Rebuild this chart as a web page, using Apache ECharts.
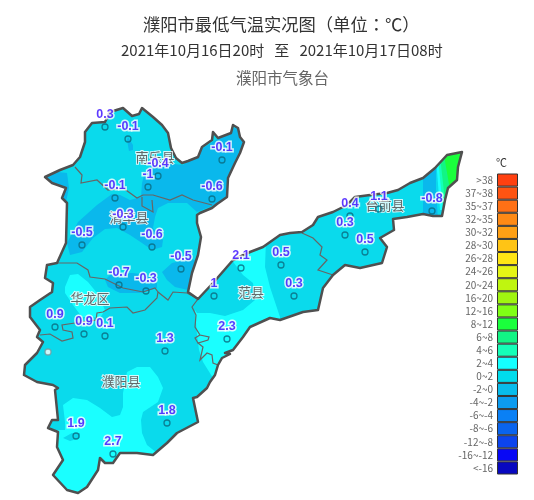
<!DOCTYPE html>
<html><head><meta charset="utf-8">
<style>html,body{margin:0;padding:0;background:#fff}#c{width:534px;height:500px}</style>
<script src="https://cdn.jsdelivr.net/npm/echarts@6/dist/echarts.min.js"></script>
</head><body><div id="c"></div>
<script>
// ---- station observations ----
const stationX = [105,128,158,148,222,212,115,123,82,152,181,119,146,55,84,105,48,165,167,76,113,227,214,241,281,294,350,345,365,379,432];
const stationY = [127,139,176,187,160,199,198,227,245,247,269,285,291,327,334,336,352,351,423,436,454,339,296,268,265,296,216,235,252,209,211];
const stationValues = [0.3,-0.1,-0.4,-1,-0.1,-0.6,-0.1,-0.3,-0.5,-0.6,-0.5,-0.7,-0.3,0.9,0.9,0.1,null,1.3,1.8,1.9,2.7,2.3,1,2.1,0.5,0.3,0.4,0.3,0.5,1.1,-0.8];
// ---- counties ----
const countyNames = ['南乐县','清丰县','华龙区','濮阳县','范县','台前县'];
const countyX = [155,129,90,121,251,385];
const countyY = [157,217,298,381,292,205];
// ---- legend ----
const legendLabels = ['>38','37~38','35~37','32~35','30~32','28~30','26~28','24~26','20~24','16~20','12~16','8~12','6~8','4~6','2~4','0~2','-2~0','-4~-2','-6~-4','-8~-6','-12~-8','-16~-12','<-16'];
const legendColors = ['#ff4010','#ff5412','#ff7015','#ff8a15','#ffa015','#ffc415','#ffe515','#e5f515','#bff510','#a0f510','#80ff15','#1aff3c','#12f585','#15ffb8','#14ffff','#00dcec','#08bcec','#0c9cf0','#0a80f5','#0a64ee','#0c44ee','#0808f5','#0808c0'];
// ---- map geometry (map units) ----
const outerBorder = [[85,132],[92,123],[105,122],[110,112],[123,108],[132,116],[139,114],[142,108],[153,117],[162,125],[168,133],[171,148],[176,158],[182,163],[188,161],[198,157],[202,147],[212,140],[213,132],[218,138],[231,133],[233,125],[238,128],[240,137],[244,142],[240,153],[235,163],[228,178],[227,197],[217,204],[212,208],[200,213],[197,215],[197,223],[201,237],[198,255],[192,273],[188,292],[198,299],[213,283],[233,260],[250,252],[263,247],[280,235],[290,233],[302,232],[313,225],[318,217],[333,212],[347,205],[355,197],[370,195],[387,193],[398,190],[410,183],[423,178],[435,168],[447,155],[462,152],[458,167],[457,180],[448,188],[445,200],[442,216],[433,216],[423,214],[407,217],[393,219],[394,230],[380,238],[387,247],[382,263],[360,268],[345,265],[333,275],[323,288],[318,310],[303,312],[280,320],[270,318],[250,327],[243,337],[233,350],[225,353],[230,354],[222,358],[218,365],[215,375],[210,382],[207,388],[197,397],[193,398],[198,422],[177,433],[167,443],[153,455],[137,453],[120,453],[113,463],[105,463],[100,458],[98,470],[87,487],[78,493],[67,490],[53,475],[63,460],[57,447],[58,432],[48,428],[52,420],[58,420],[55,390],[58,388],[53,385],[37,382],[24,375],[25,365],[37,353],[43,342],[37,337],[40,330],[30,317],[30,307],[40,300],[52,292],[53,283],[45,278],[47,265],[57,263],[66,243],[67,203],[62,198],[66,188],[52,183],[45,177],[60,170],[73,165],[80,157],[85,142]];
const borderNanle = [[75,167],[82,175],[81,183],[97,180],[108,190],[123,188],[137,198],[143,195],[153,195],[170,200],[182,195],[193,200],[212,205]];
const borderNanleLoop = [[142,197],[142,206],[153,212],[152,200]];
const borderQingfeng = [[57,263],[77,263],[88,270],[90,277],[105,279],[123,288],[143,292],[155,288],[158,292]];
const borderHualongEast = [[158,292],[168,300],[173,292],[187,293],[198,299]];
const borderHualong = [[158,292],[157,298],[145,310],[133,313],[127,307],[110,308],[103,312],[97,313],[96,320],[75,323],[62,325],[63,330],[72,332],[73,338],[62,341],[50,334],[40,335]];
const borderFanPuyang = [[198,299],[192,307],[196,315],[195,327],[200,335],[209,337],[208,340],[198,343],[195,338],[200,335]];
const borderFanPuyang2 = [[198,343],[203,347],[200,360],[207,353],[212,355],[213,363],[218,365]];
const borderTaiqian = [[302,233],[313,238],[322,247],[320,255],[327,260],[318,270],[333,275]];
const borderGroups = [borderNanle,borderNanleLoop,borderQingfeng,borderHualongEast,borderHualong,borderFanPuyang,borderFanPuyang2,borderTaiqian];
// ---- temperature bands ----
const bandBase = [[0,90],[480,90],[480,500],[0,500]];
const coldCentral = [[67,243],[78,222],[97,205],[112,194],[120,195],[130,200],[141,197],[142,183],[145,172],[152,165],[165,163],[183,165],[200,150],[247,120],[253,167],[227,200],[207,208],[197,212],[187,203],[168,203],[158,208],[155,217],[153,228],[163,240],[162,247],[152,250],[142,243],[130,235],[117,228],[105,229],[93,238],[82,252],[70,255]];
const coldWest = [[40,170],[67,173],[69,188],[66,202],[60,200],[40,190]];
const coldNorth = [[128,137],[133,145],[133,150],[129,151],[127,140]];
const coldEast = [[162,272],[172,263],[190,259],[195,260],[190,280],[188,290],[175,287],[167,280]];
const coldHualong = [[105,280],[112,273],[133,273],[147,275],[157,283],[157,288],[140,293],[120,293],[108,287]];
const coolSouth = [[63,438],[72,433],[80,433],[80,438],[70,441]];
const warmHualong = [[65,287],[70,275],[78,274],[88,282],[97,293],[105,310],[100,318],[92,317],[82,317],[73,305],[65,293]];
const warmFan = [[228,255],[266,240],[265,267],[270,287],[280,317],[280,330],[240,340],[225,370],[213,378],[203,362],[199,350],[197,335],[195,310],[197,313],[210,313],[225,316],[243,310],[255,300],[253,283],[243,275]];
const warmPuyang = [[127,372],[137,367],[150,367],[158,377],[163,388],[158,402],[143,412],[141,420],[142,433],[147,445],[157,453],[158,470],[158,500],[40,500],[40,440],[50,430],[65,430],[65,422],[63,405],[73,398],[87,400],[100,408],[112,417],[120,415],[123,407],[123,393]];
const coldTaiqian = [[423,170],[436,165],[436,190],[438,220],[423,220]];
const edge24 = [[437,150],[437,171],[440,210],[470,210],[470,150]];
const edge46 = [[439,150],[439,168],[443,210],[470,210],[470,150]];
const edge68 = [[441,150],[441,165],[446,210],[470,210],[470,150]];
const edge812 = [[445,150],[445,161],[450,190],[452,210],[470,210],[470,150]];
const cBase='#0adaec', cCold='#0ab8ec', cWarm='#1affff';
const bands = [
 [bandBase,cBase],[coldCentral,cCold],[coldWest,cCold],[coldNorth,cCold],[coldEast,cCold],[coldHualong,cCold],
 [warmHualong,cWarm],[warmFan,cWarm],[warmPuyang,cWarm],[coolSouth,cBase],
 [coldTaiqian,cCold],[edge24,cWarm],[edge46,'#15ffb8'],[edge68,'#12f585'],[edge812,'#1aff3c']
];
const font = '"Noto Sans CJK SC","Noto Sans",sans-serif';
const fontTitle = '"Noto Sans CJK TC","Noto Sans",sans-serif';
const chart = echarts.init(document.getElementById('c'));
const toPts = (api,ring)=>ring.map(p=>api.coord(p));
chart.setOption({
 backgroundColor:'#fff',
 animation:false,
 title:[
  {text:'濮阳市最低气温实况图（单位：℃）',left:143,top:16,padding:0,textStyle:{fontFamily:fontTitle,fontSize:17.3,fontWeight:'normal',color:'#333'}},
  {text:'2021年10月16日20时   至   2021年10月17日08时',left:121,top:43,padding:0,textStyle:{fontFamily:font,fontSize:15,fontWeight:'normal',color:'#333'}},
  {text:'濮阳市气象台',left:236,top:70,padding:0,textStyle:{fontFamily:font,fontSize:15.5,fontWeight:'normal',color:'#666'}},
  {text:'℃',left:496,top:157,padding:0,textStyle:{fontFamily:font,fontSize:11,fontWeight:'normal',color:'#333'}}
 ],
 grid:[
  {left:0,top:0,width:534,height:500},
  {left:497,top:173.5,width:21,height:301}
 ],
 xAxis:[
  {type:'value',gridIndex:0,min:0,max:534,show:false},
  {type:'value',gridIndex:1,min:0,max:1,show:false}
 ],
 yAxis:[
  {type:'value',gridIndex:0,min:0,max:500,inverse:true,show:false},
  {type:'category',gridIndex:1,inverse:true,data:legendLabels,axisLine:{show:false},axisTick:{show:false},
   axisLabel:{color:'#666',fontSize:10,margin:4,interval:0,fontFamily:font}}
 ],
 series:[
  {type:'custom',xAxisIndex:0,yAxisIndex:0,z:1,silent:true,clip:false,
   data:bands.map((b,i)=>[i,0]),
   renderItem:(params,api)=>{
     const b=bands[api.value(0)];
     return {type:'polygon',shape:{points:toPts(api,b[0])},style:{fill:b[1]},
       clipPath:{type:'polygon',shape:{points:toPts(api,outerBorder)}}};
   }},
  {type:'custom',xAxisIndex:0,yAxisIndex:0,z:2,silent:true,clip:false,
   data:borderGroups.map((b,i)=>[i,0]),
   renderItem:(params,api)=>({type:'polyline',shape:{points:toPts(api,borderGroups[api.value(0)])},
     style:{fill:null,stroke:'#666',lineWidth:1.2}})},
  {type:'custom',xAxisIndex:0,yAxisIndex:0,z:2,silent:true,clip:false,
   data:[[0,0]],
   renderItem:(params,api)=>({type:'polygon',shape:{points:toPts(api,outerBorder)},
     style:{fill:null,stroke:'#505050',lineWidth:2.5,lineJoin:'round'}})},
  {type:'scatter',xAxisIndex:0,yAxisIndex:0,z:3,silent:true,symbolSize:0,
   data:countyNames.map((n,i)=>({name:n,value:[countyX[i],countyY[i]]})),
   label:{show:true,position:'inside',formatter:'{b}',fontFamily:font,fontSize:13,color:'#444',textBorderColor:'#fff',textBorderWidth:2}},
  {type:'scatter',xAxisIndex:0,yAxisIndex:0,z:4,silent:true,symbol:'circle',symbolSize:6,
   data:stationValues.map((v,i)=>({value:[stationX[i],stationY[i],v],
     itemStyle:{color:v===null?'#fff':'transparent',borderColor:v===null?'#7a9a9f':'#0a6a80',borderWidth:1.3}})),
   label:{show:true,position:'top',distance:2,fontFamily:'"Liberation Sans",Arial,sans-serif',fontSize:12.5,fontWeight:'bold',color:'#3508ff',textBorderColor:'#fff',textBorderWidth:3,
     formatter:p=>p.value[2]===null?'':String(p.value[2])}},
  {type:'bar',xAxisIndex:1,yAxisIndex:1,z:2,silent:true,barWidth:'100%',
   data:legendColors.map(c=>({value:1,itemStyle:{color:c,borderColor:'#333',borderWidth:1}}))}
 ]
});
</script></body></html>
